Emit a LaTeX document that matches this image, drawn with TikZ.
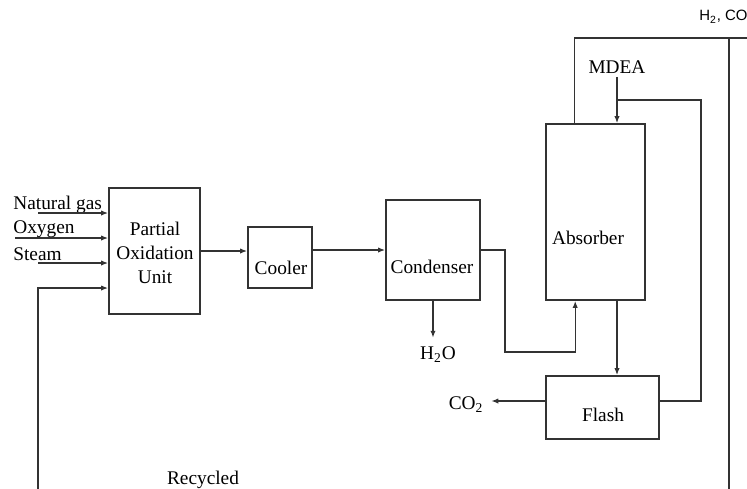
\documentclass[tikz,border=0pt]{standalone}
\usepackage{fontspec}
\setmainfont{Liberation Serif}
\setsansfont{Liberation Sans}
\usetikzlibrary{positioning}
\usetikzlibrary{calc}
\usetikzlibrary{arrows.meta}

\begin{document}
\begin{tikzpicture}[x=0.02cm, y=-0.02cm,
    unit/.style={draw=black!80, line width=0.9pt, inner sep=0pt},
    lbl/.style={inner sep=0pt, font=\fontsize{11}{13.7}\selectfont},
    flow/.style={draw=black!80, line width=0.8pt},
    arr/.style={flow, -{Latex[length=4pt, width=3pt]}}]
  \useasboundingbox (0,0) rectangle (747,488);
  \clip (0,0) rectangle (747,488);

  % units
  \node[unit, minimum width=1.82cm, minimum height=2.52cm] (pou) at (154.5,251) {};
  \node[unit, minimum width=1.28cm, minimum height=1.22cm] (cooler) at (280,257.5) {};
  \node[unit, minimum width=1.88cm, minimum height=2.0cm] (cond) at (433,250) {};
  \node[unit, minimum width=1.98cm, minimum height=3.52cm] (abs) at (595.5,212) {};
  \node[unit, minimum width=2.26cm, minimum height=1.26cm] (flash) at (602.5,407.5) {};

  \node[lbl, align=center] (pou-t) at (155,253) {Partial\\Oxidation\\Unit};
  \node[lbl] (cooler-t) at (281,268) {Cooler};
  \node[lbl] (cond-t) at (432,267) {Condenser};
  \node[lbl] (abs-t) at (588,238) {Absorber};
  \node[lbl] (flash-t) at (603,415) {Flash};

  % feeds
  \node[lbl, anchor=west] (ng-t) at (13,205) {Natural gas};
  \node[lbl, anchor=west] (ox-t) at (13,229) {Oxygen};
  \node[lbl, anchor=west] (st-t) at (13,254) {Steam};
  \coordinate (ng) at (38,213);
  \coordinate (ox) at (15,238);
  \coordinate (st) at (38,263);
  \draw[arr] (ng) -- (ng -| pou.west);
  \draw[arr] (ox) -- (ox -| pou.west);
  \draw[arr] (st) -- (st -| pou.west);

  % recycle
  \coordinate (rc) at (38,492);
  \coordinate (rc-top) at (38,288);
  \draw[arr] (rc) -- (rc-top) -- (rc-top -| pou.west);
  \node[lbl] (rec-t) at (203,480) {Recycled};

  % main line
  \draw[arr] (pou.east) -- (pou.east -| cooler.west);
  \draw[arr] (cond.west -| cooler.east) -- (cond.west);
  \coordinate (c-low) at (505,352);
  \draw[arr] (cond.east) -| (c-low) -| ($(abs.south west)+(30,0)$);

  \node[lbl] (h2o) at (438,355) {H\textsubscript{2}O};
  \draw[arr] (cond.south) -- ($(cond.south)+(0,37)$);

  % absorber top
  \coordinate (prod) at (752,38);
  \coordinate (split) at (729,38);
  \coordinate (rec-r) at (729,492);
  \draw[flow] ($(abs.north west)+(29,0)$) |- (prod);
  \draw[flow] (split) -- (rec-r);
  \node[inner sep=0pt, anchor=west, font=\sffamily\fontsize{8.5}{10}\selectfont] (prod-t) at (699,17) {H\textsubscript{2}, CO};

  % solvent
  \node[lbl] (mdea) at (617,67) {MDEA};
  \draw[arr] ($(mdea.south)+(0,3)$) -- (mdea.south |- abs.north);
  \draw[arr] (mdea.south |- abs.south) -- (mdea.south |- flash.north);
  \coordinate (ret) at (701,100);
  \draw[flow] ($(flash.east)+(0,-6.5)$) -| (ret) -- (ret -| mdea.south);

  \node[lbl] (co2) at (466,405) {CO\textsubscript{2}};
  \draw[arr] ($(flash.west)+(0,-6.5)$) -- ($(flash.west)+(-54,-6.5)$);
\end{tikzpicture}
\end{document}
